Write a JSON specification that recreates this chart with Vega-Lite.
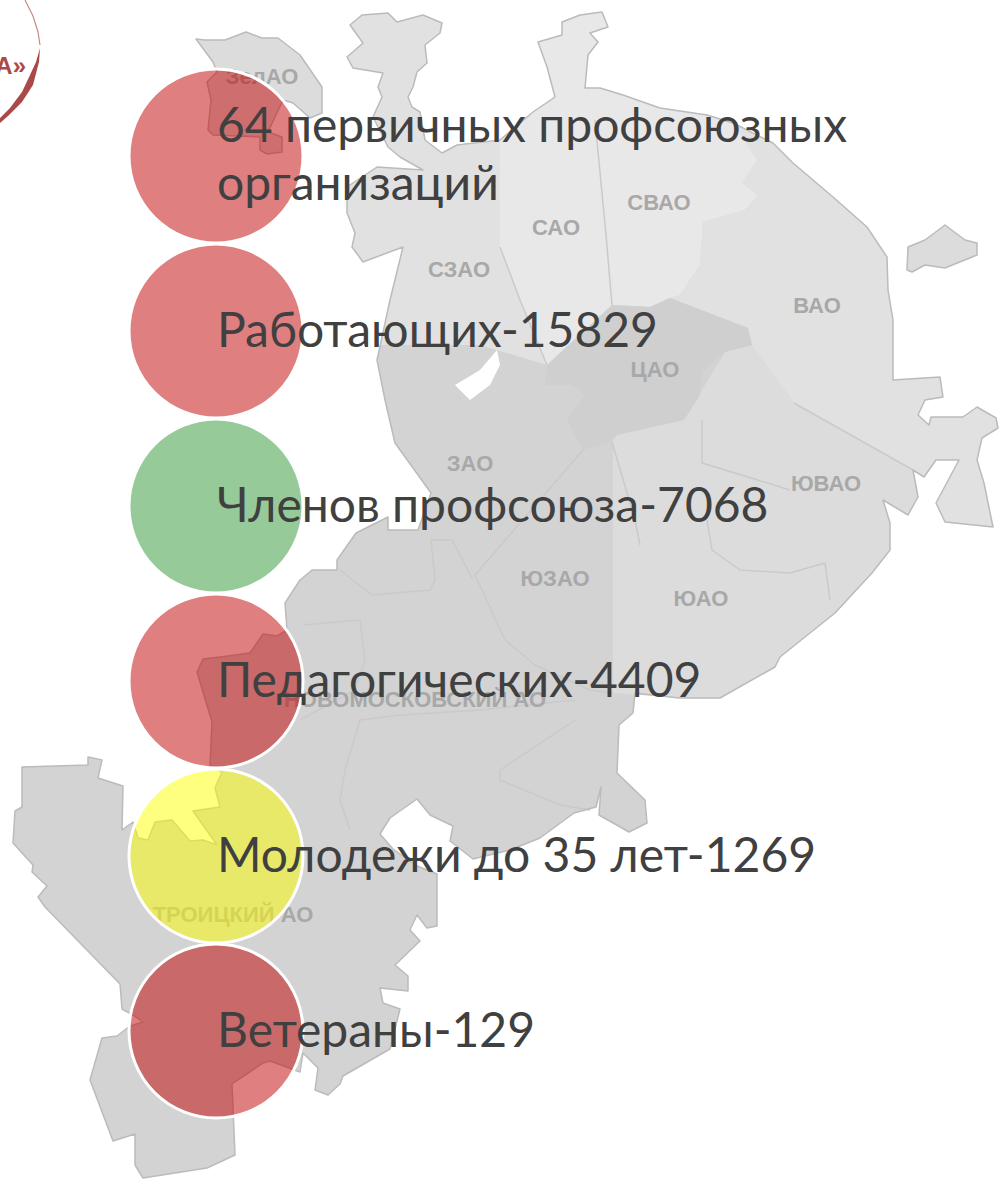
{"$schema":"https://vega.github.io/schema/vega-lite/v6.json","width":999,"height":1182,"padding":0,"autosize":"none","background":"white","config":{"view":{"stroke":null}},
"resolve":{"scale":{"fill":"independent"}},
"datasets":{
"outline":[{"type":"Feature","properties":{"name":"Москва"},"geometry":{"type":"MultiPolygon","coordinates":[
[[[350,25],[362,15],[388,13],[397,22],[423,15],[442,23],[440,33],[425,45],[427,63],[417,72],[413,87],[408,97],[412,107],[420,112],[425,140],[442,153],[457,145],[500,140],[533,112],[555,97],[547,67],[538,42],[562,35],[562,22],[580,15],[602,12],[608,27],[590,33],[598,42],[588,55],[585,88],[600,88],[623,95],[660,108],[707,115],[733,123],[773,143],[793,163],[833,197],[867,227],[887,257],[888,290],[893,320],[893,380],[940,377],[943,397],[925,400],[918,415],[929,425],[931,417],[963,417],[977,407],[996,418],[998,428],[982,438],[977,460],[984,483],[993,527],[945,522],[936,503],[952,473],[959,460],[936,460],[924,477],[913,470],[918,497],[908,515],[883,500],[890,523],[890,550],[872,573],[835,613],[780,657],[775,667],[720,698],[679,698],[635,693],[633,713],[619,725],[617,773],[645,800],[647,823],[629,832],[599,815],[601,787],[596,807],[574,813],[540,838],[510,850],[473,859],[450,841],[453,826],[430,815],[417,799],[390,818],[380,834],[393,849],[417,866],[437,874],[437,926],[427,928],[417,915],[410,930],[420,941],[395,965],[408,976],[408,991],[380,988],[383,1003],[400,1009],[390,1049],[343,1076],[340,1084],[328,1095],[315,1090],[318,1068],[303,1053],[300,1072],[270,1061],[263,1063],[232,1084],[235,1155],[207,1168],[143,1178],[135,1165],[135,1134],[113,1141],[90,1080],[102,1038],[117,1036],[130,1026],[143,1022],[133,1015],[122,1009],[120,984],[82,945],[45,907],[38,897],[47,886],[32,872],[33,865],[13,843],[15,811],[22,807],[22,767],[88,765],[88,757],[102,760],[98,778],[123,786],[122,830],[133,822],[138,838],[148,840],[155,822],[172,820],[190,841],[203,840],[217,845],[193,811],[220,807],[215,788],[222,772],[210,765],[212,722],[197,672],[203,659],[220,657],[250,653],[263,634],[277,636],[287,630],[285,603],[300,580],[312,570],[337,570],[337,560],[356,533],[388,517],[388,530],[418,530],[431,493],[395,443],[385,400],[377,360],[390,300],[403,247],[363,262],[352,247],[355,233],[347,213],[347,187],[377,167],[423,170],[400,157],[388,147],[373,117],[382,97],[378,87],[383,73],[353,68],[347,57],[363,43],[350,25]]],
[[[196,39],[205,40],[225,40],[246,32],[262,38],[278,38],[300,55],[322,87],[322,113],[310,118],[293,103],[283,100],[268,132],[282,137],[282,152],[267,154],[260,150],[260,137],[213,135],[208,130],[211,100],[207,82],[217,72],[213,62],[196,39]]],
[[[907,270],[908,247],[925,240],[945,225],[965,240],[977,243],[977,255],[945,268],[925,265],[912,272],[907,270]]]
]}}],
"zones":[
{"type":"Feature","properties":{"zone":"base"},"geometry":{"type":"MultiPolygon","coordinates":[
[[[350,25],[362,15],[388,13],[397,22],[423,15],[442,23],[440,33],[425,45],[427,63],[417,72],[413,87],[408,97],[412,107],[420,112],[425,140],[442,153],[457,145],[500,140],[533,112],[555,97],[547,67],[538,42],[562,35],[562,22],[580,15],[602,12],[608,27],[590,33],[598,42],[588,55],[585,88],[600,88],[623,95],[660,108],[707,115],[733,123],[773,143],[793,163],[833,197],[867,227],[887,257],[888,290],[893,320],[893,380],[940,377],[943,397],[925,400],[918,415],[929,425],[931,417],[963,417],[977,407],[996,418],[998,428],[982,438],[977,460],[984,483],[993,527],[945,522],[936,503],[952,473],[959,460],[936,460],[924,477],[913,470],[918,497],[908,515],[883,500],[890,523],[890,550],[872,573],[835,613],[780,657],[775,667],[720,698],[679,698],[635,693],[633,713],[619,725],[617,773],[645,800],[647,823],[629,832],[599,815],[601,787],[596,807],[574,813],[540,838],[510,850],[473,859],[450,841],[453,826],[430,815],[417,799],[390,818],[380,834],[393,849],[417,866],[437,874],[437,926],[427,928],[417,915],[410,930],[420,941],[395,965],[408,976],[408,991],[380,988],[383,1003],[400,1009],[390,1049],[343,1076],[340,1084],[328,1095],[315,1090],[318,1068],[303,1053],[300,1072],[270,1061],[263,1063],[232,1084],[235,1155],[207,1168],[143,1178],[135,1165],[135,1134],[113,1141],[90,1080],[102,1038],[117,1036],[130,1026],[143,1022],[133,1015],[122,1009],[120,984],[82,945],[45,907],[38,897],[47,886],[32,872],[33,865],[13,843],[15,811],[22,807],[22,767],[88,765],[88,757],[102,760],[98,778],[123,786],[122,830],[133,822],[138,838],[148,840],[155,822],[172,820],[190,841],[203,840],[217,845],[193,811],[220,807],[215,788],[222,772],[210,765],[212,722],[197,672],[203,659],[220,657],[250,653],[263,634],[277,636],[287,630],[285,603],[300,580],[312,570],[337,570],[337,560],[356,533],[388,517],[388,530],[418,530],[431,493],[395,443],[385,400],[377,360],[390,300],[403,247],[363,262],[352,247],[355,233],[347,213],[347,187],[377,167],[423,170],[400,157],[388,147],[373,117],[382,97],[378,87],[383,73],[353,68],[347,57],[363,43],[350,25]]]
]}},
{"type":"Feature","properties":{"zone":"east"},"geometry":{"type":"MultiPolygon","coordinates":[
[[[196,39],[205,40],[225,40],[246,32],[262,38],[278,38],[300,55],[322,87],[322,113],[310,118],[293,103],[283,100],[268,132],[282,137],[282,152],[267,154],[260,150],[260,137],[213,135],[208,130],[211,100],[207,82],[217,72],[213,62],[196,39]]],
[[[907,270],[908,247],[925,240],[945,225],[965,240],[977,243],[977,255],[945,268],[925,265],[912,272],[907,270]]],
[[[617,435],[684,420],[725,352],[752,345],[794,403],[913,470],[918,497],[908,515],[883,500],[890,523],[890,550],[872,573],[835,613],[780,657],[775,667],[720,698],[679,698],[613,693],[613,440],[617,435]]]
]}},
{"type":"Feature","properties":{"zone":"mid"},"geometry":{"type":"MultiPolygon","coordinates":[
[[[350,25],[362,15],[388,13],[397,22],[423,15],[442,23],[440,33],[425,45],[427,63],[417,72],[413,87],[408,97],[412,107],[420,112],[425,140],[442,153],[457,145],[500,140],[500,247],[520,300],[547,365],[480,345],[381,345],[390,300],[403,247],[363,262],[352,247],[355,233],[347,213],[347,187],[377,167],[423,170],[400,157],[388,147],[373,117],[382,97],[378,87],[383,73],[353,68],[347,57],[363,43],[350,25]]],
[[[670,298],[680,295],[700,265],[703,222],[745,210],[758,195],[742,183],[757,160],[733,123],[773,143],[793,163],[833,197],[867,227],[887,257],[888,290],[893,320],[893,380],[940,377],[943,397],[925,400],[918,415],[929,425],[931,417],[963,417],[977,407],[996,418],[998,428],[982,438],[977,460],[984,483],[993,527],[945,522],[936,503],[952,473],[959,460],[936,460],[924,477],[913,470],[794,403],[752,345],[748,328],[670,298]]]
]}},
{"type":"Feature","properties":{"zone":"light"},"geometry":{"type":"Polygon","coordinates":[[[500,140],[533,112],[555,97],[547,67],[538,42],[562,35],[562,22],[580,15],[602,12],[608,27],[590,33],[598,42],[588,55],[585,88],[600,88],[623,95],[660,108],[707,115],[733,123],[757,160],[742,183],[758,195],[745,210],[703,222],[700,265],[680,295],[670,298],[650,307],[612,305],[547,365],[520,300],[500,247],[500,140]]]}},
{"type":"Feature","properties":{"zone":"centre"},"geometry":{"type":"Polygon","coordinates":[[[547,365],[612,305],[650,307],[670,298],[748,328],[752,345],[725,352],[703,370],[700,395],[684,420],[617,435],[610,442],[583,450],[567,420],[585,395],[572,385],[545,385],[547,365]]]}},
{"type":"Feature","properties":{"zone":"hole"},"geometry":{"type":"Polygon","coordinates":[[[455,385],[480,370],[497,350],[500,365],[490,385],[470,400],[455,385]]]}}
],
"lines":[{"type":"Feature","properties":{"name":"границы"},"geometry":{"type":"MultiLineString","coordinates":[
[[595,120],[606,235],[612,305]],
[[500,247],[520,300],[547,365]],
[[794,403],[913,470]],
[[702,420],[702,463],[748,477],[790,490]],
[[707,520],[712,550],[740,570],[790,573],[825,563],[830,600]],
[[583,450],[475,575],[505,640],[535,665],[590,690],[613,693]],
[[612,442],[635,520],[640,545]],
[[431,540],[452,540],[473,580]],
[[431,540],[435,580],[430,590],[372,595],[340,570]],
[[303,625],[360,620],[365,660],[355,690],[300,720]],
[[345,770],[360,720],[400,715],[480,710],[575,700]],
[[575,720],[500,770],[500,780],[560,805],[590,810]],
[[345,770],[340,800],[350,830]]
]}}],
"logoFill":[{"type":"Feature","properties":{"name":"кольцо"},"geometry":{"type":"Polygon","coordinates":[[[40,48],[39,62],[33,85],[22,102],[8,116],[0,123],[0,118],[10,108],[22,92],[30,75],[36,62],[40,48]]]}}],
"logoLine":[{"type":"Feature","properties":{"name":"кольцо"},"geometry":{"type":"LineString","coordinates":[[25,0],[33,16],[38,32],[40,45]]}}],
"mapLabels":[
{"name":"ЗелАО","lon":262,"lat":77},{"name":"СЗАО","lon":459,"lat":270},{"name":"САО","lon":556,"lat":228},{"name":"СВАО","lon":659,"lat":203},{"name":"ВАО","lon":817,"lat":306},{"name":"ЦАО","lon":655,"lat":370},{"name":"ЗАО","lon":470,"lat":464},{"name":"ЮВАО","lon":826,"lat":484},{"name":"ЮЗАО","lon":555,"lat":579},{"name":"ЮАО","lon":701,"lat":599},{"name":"НОВОМОСКОВСКИЙ АО","lon":415,"lat":700},{"name":"ТРОИЦКИЙ АО","lon":233,"lat":915}],
"stats":[
{"rank":1,"col":0,"group":"red"},
{"rank":2,"col":0,"group":"red"},
{"rank":3,"col":0,"group":"green"},
{"rank":4,"col":0,"group":"red"},
{"rank":5,"col":0,"group":"yellow"},
{"rank":6,"col":0,"group":"red"}],
"statLabels":[
{"rank":0.829,"col":0,"label":"64 первичных профсоюзных"},
{"rank":1.16,"col":0,"label":"организаций"},
{"rank":2,"col":0,"label":"Работающих-15829"},
{"rank":3,"col":0,"label":"Членов профсоюза-7068"},
{"rank":4,"col":0,"label":"Педагогических-4409"},
{"rank":5,"col":0,"label":"Молодежи до 35 лет-1269"},
{"rank":6,"col":0,"label":"Ветераны-129"}],
"logoText":[{"t":"А»","lon":26,"lat":67}]
},
"projection":{"type":"identity","scale":1,"translate":[0,0]},
"layer":[
{"data":{"name":"zones"},"mark":{"type":"geoshape","strokeWidth":0},"encoding":{"fill":{"field":"properties.zone","type":"nominal","legend":null,"scale":{"domain":["base","east","mid","light","centre","hole"],"range":["#D3D3D3","#DCDCDC","#E1E1E1","#E8E8E8","#CFCFCF","#FFFFFF"]}}}},
{"data":{"name":"lines"},"mark":{"type":"geoshape","filled":false,"stroke":"#CACACA","strokeWidth":1.5,"strokeJoin":"round"},"encoding":{}},
{"data":{"name":"outline"},"mark":{"type":"geoshape","filled":false,"stroke":"#BBBBBB","strokeWidth":1.5,"strokeJoin":"round"},"encoding":{}},
{"data":{"name":"mapLabels"},"mark":{"type":"text","font":"Liberation Sans","fontWeight":"bold","fontSize":22,"fill":"#A8A8A8","align":"center","baseline":"middle"},"encoding":{"longitude":{"field":"lon","type":"quantitative"},"latitude":{"field":"lat","type":"quantitative"},"text":{"field":"name"}}},
{"data":{"name":"logoFill"},"mark":{"type":"geoshape","fill":"#A94A48","strokeWidth":0},"encoding":{}},
{"data":{"name":"logoLine"},"mark":{"type":"geoshape","filled":false,"stroke":"#C98A88","strokeWidth":1.2},"encoding":{}},
{"data":{"name":"logoText"},"mark":{"type":"text","font":"Liberation Sans","fontWeight":"bold","fontSize":24,"fill":"#A94A48","align":"right","baseline":"middle"},"encoding":{"longitude":{"field":"lon","type":"quantitative"},"latitude":{"field":"lat","type":"quantitative"},"text":{"field":"t"}}},
{"data":{"name":"stats"},"mark":{"type":"point","shape":"circle","filled":true,"size":30276,"fillOpacity":0.5,"stroke":"#FFFFFF","strokeWidth":3,"strokeOpacity":1},"encoding":{"x":{"field":"col","type":"quantitative","axis":null,"scale":{"domain":[-216,783],"range":[0,999]}},"y":{"field":"rank","type":"quantitative","axis":null,"scale":{"domain":[0.10857,6.86286],"range":[0,1182]}},"fill":{"field":"group","type":"nominal","legend":null,"scale":{"domain":["red","green","yellow"],"range":["#BF0000","#2D9531","#FFFF00"]}}}},
{"data":{"name":"statLabels"},"mark":{"type":"text","font":"Lato","fontSize":48,"fill":"#404040","align":"left","baseline":"middle","dx":1,"dy":2},"encoding":{"x":{"field":"col","type":"quantitative","axis":null,"scale":{"domain":[-216,783],"range":[0,999]}},"y":{"field":"rank","type":"quantitative","axis":null,"scale":{"domain":[0.10857,6.86286],"range":[0,1182]}},"text":{"field":"label"}}}
]}
